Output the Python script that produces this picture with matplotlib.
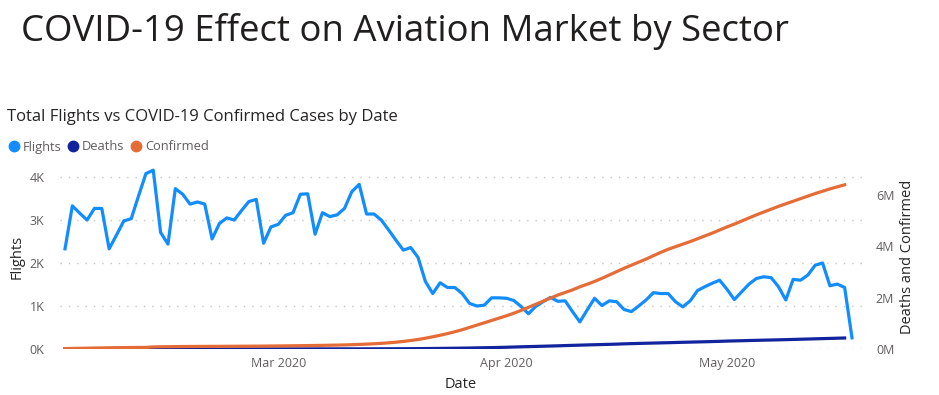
import matplotlib
matplotlib.use('Agg')
import matplotlib.pyplot as plt
import matplotlib.dates as mdates
from matplotlib.lines import Line2D
from matplotlib.ticker import FuncFormatter
import pandas as pd

# daily values, starting 1 Feb 2020
flights = [2330, 3330, 3160, 3000, 3270, 3270, 2330, 2650, 2980, 3030,
           3560, 4080, 4160, 2710, 2440, 3730, 3600, 3370, 3420, 3370,
           2560, 2920, 3050, 3000, 3220, 3430, 3480, 2460, 2840, 2900,
           3110, 3170, 3600, 3610, 2670, 3170, 3080, 3120, 3270, 3660,
           3830, 3140, 3140, 3000, 2770, 2530, 2300, 2360, 2130, 1570,
           1290, 1540, 1430, 1430, 1290, 1060, 1000, 1020, 1190, 1190,
           1180, 1130, 990, 820, 990, 1100, 1200, 1110, 1120, 870,
           630, 910, 1180, 1010, 1120, 1100, 920, 870, 1000, 1140,
           1310, 1290, 1290, 1100, 980, 1120, 1360, 1450, 1530, 1600,
           1390, 1150, 1330, 1510, 1640, 1680, 1660, 1450, 1140, 1620,
           1600, 1720, 1950, 2000, 1470, 1510, 1430, 260]

# thousands
confirmed = [16, 22, 27, 32, 38, 42, 47, 52, 55, 59, 61, 61, 81, 87, 90,
             93, 96, 98, 100, 101, 102, 103, 105, 106, 108, 109, 111, 113, 116,
             119, 122, 126, 129, 133, 137, 142, 147, 152, 159, 168, 178, 190,
             203, 220, 240, 265, 295, 330, 370, 420, 475, 535, 600, 670, 750,
             840, 930, 1020, 1110, 1200,
             1290, 1390, 1500, 1620, 1740, 1860, 1980, 2100, 2200, 2300,
             2420, 2520, 2630, 2750, 2880, 3010, 3140, 3260, 3380, 3500,
             3630, 3760, 3880, 3980, 4080, 4180, 4290, 4400, 4510, 4630,
             4750, 4860, 4980, 5100, 5220, 5330, 5440, 5550, 5650, 5750,
             5850, 5950, 6050, 6140, 6230, 6310, 6390]

deaths = [0.35, 0.5, 0.6, 0.6, 0.7, 0.8, 0.9, 1.0, 1.2, 1.3, 1.4, 1.5, 1.8,
          2.0, 2.1, 2.2, 2.4, 2.5, 2.7, 2.8, 3.0, 3.0, 3.2, 3.3, 3.5, 3.6,
          3.7, 3.8, 3.9,
          4.0, 4.1, 4.2, 4.3, 4.5, 4.6, 4.7, 4.8, 5.1, 5.3, 5.7, 6.0, 6.6,
          7.2, 7.9, 8.7, 9.8, 11, 12.5, 14.5, 17, 20, 23, 26.5, 30, 34, 38,
          44, 49, 54, 61,
          68, 77, 85, 93, 100, 108, 116, 124, 133, 142, 150, 159, 166, 174,
          181, 190, 200, 209, 217, 224, 231, 238, 245, 253, 261, 268, 275,
          282, 290, 298,
          308, 315, 322, 330, 337, 344, 350, 357, 364, 372, 380, 388, 396,
          404, 412, 420, 428]

flight_dates = pd.date_range('2020-02-01', periods=len(flights))
case_dates = pd.date_range('2020-02-01', periods=len(confirmed))

c_flights = '#118DFF'
c_deaths = '#12239E'
c_conf = '#E66C37'
grey = '#605E5C'
dark = '#252423'

plt.rcParams['font.family'] = ['Open Sans', 'DejaVu Sans']

fig = plt.figure(figsize=(9.39, 3.95), dpi=100)
ax = fig.add_axes([60 / 939, 46 / 395, 802 / 939, 184 / 395])
ax2 = ax.twinx()

ax.plot(flight_dates, flights, color=c_flights, lw=2.3, solid_joinstyle='round', zorder=3)
ax2.plot(case_dates, [d * 1000 for d in deaths], color=c_deaths, lw=2.3)
ax2.plot(case_dates, [c * 1000 for c in confirmed], color=c_conf, lw=2.3)

day = pd.Timedelta(days=1)
ax.set_xlim(flight_dates[0] - 0.68 * day, flight_dates[-1] + 1.36 * day)
ax.set_ylim(0, 4280)
ax2.set_ylim(0, 7.16e6)

ax.set_yticks([0, 1000, 2000, 3000, 4000])
ax.yaxis.set_major_formatter(FuncFormatter(lambda v, p: f'{v / 1000:.0f}K'))
ax2.set_yticks([0, 2e6, 4e6, 6e6])
ax2.yaxis.set_major_formatter(FuncFormatter(lambda v, p: f'{v / 1e6:.0f}M'))
ax.xaxis.set_major_locator(mdates.MonthLocator(bymonth=[3, 4, 5]))
ax.xaxis.set_major_formatter(mdates.DateFormatter('%b %Y'))

ax.grid(axis='y', color='#C8C6C4', linestyle=(0, (1, 5)), linewidth=1)
for a in (ax, ax2):
    for s in a.spines.values():
        s.set_visible(False)
ax.tick_params(axis='y', length=0, pad=11, labelsize=9, labelcolor=grey)
ax.tick_params(axis='x', length=0, pad=6, labelsize=9, labelcolor=grey)
ax2.tick_params(axis='y', length=0, pad=10, labelsize=9, labelcolor=grey)

ax.set_xlabel('Date', fontsize=10.5, color=dark, labelpad=5)
ax.set_ylabel('Flights', fontsize=10.5, color=dark, labelpad=4)
ax2.set_ylabel('Deaths and Confirmed', fontsize=10.5, color=dark, labelpad=4)

fig.text(21 / 939, 1 - 31 / 395, 'COVID-19 Effect on Aviation Market by Sector',
         fontsize=26.3, color='#201F1E', va='center', ha='left')
fig.text(7 / 939, 1 - 117 / 395, 'Total Flights vs COVID-19 Confirmed Cases by Date',
         fontsize=12, color=dark, va='center', ha='left')

handles = [Line2D([], [], marker='o', ls='', color=c, markersize=7.5)
           for c in (c_flights, c_deaths, c_conf)]
fig.legend(handles, ['Flights', 'Deaths', 'Confirmed'], ncol=3, loc='center left',
           bbox_to_anchor=(2 / 939, 1 - 147 / 395), frameon=False, borderpad=0,
           handlelength=0.8, handletextpad=0.3, columnspacing=0.5,
           labelcolor=grey, fontsize=9.3)

fig.savefig('out.png', dpi=100)
